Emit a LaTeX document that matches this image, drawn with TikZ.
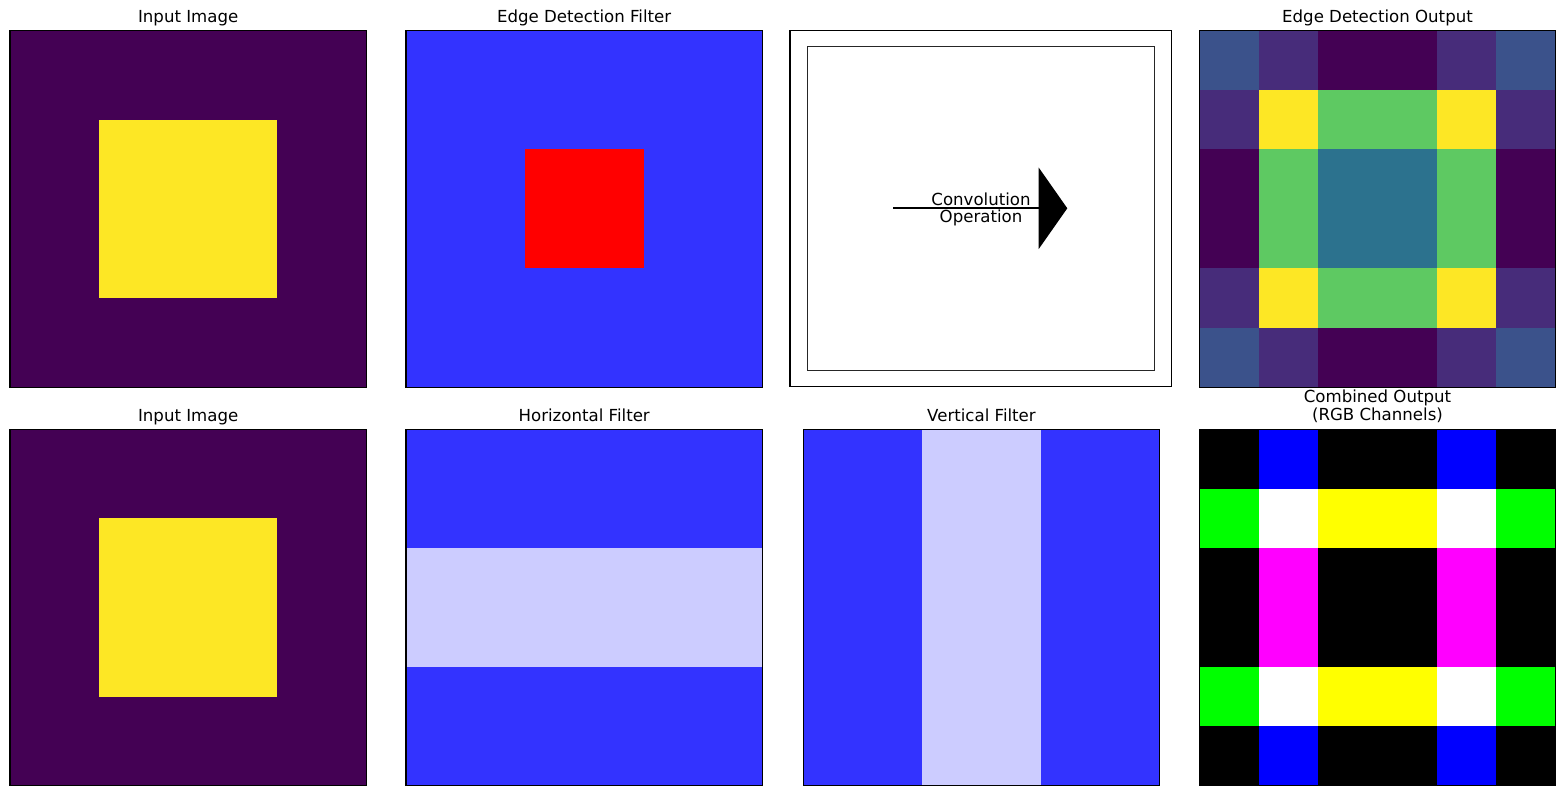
\documentclass[tikz,border=0pt]{standalone}
\usepackage{fontspec}
\setmainfont{DejaVu Sans}
\usetikzlibrary{arrows.meta}
\definecolor{vdark}{HTML}{440154}
\definecolor{vpurple}{HTML}{472C7A}
\definecolor{vblue}{HTML}{3B528B}
\definecolor{vteal}{HTML}{2C728E}
\definecolor{vgreen}{HTML}{5EC962}
\definecolor{vyellow}{HTML}{FDE725}
\definecolor{fblue}{HTML}{3333FF}
\definecolor{flight}{HTML}{CCCCFF}
\definecolor{fred}{HTML}{FF0000}
\definecolor{rgbk}{HTML}{000000}
\definecolor{rgbw}{HTML}{FFFFFF}
\definecolor{rgbb}{HTML}{0000FF}
\definecolor{rgbg}{HTML}{00FF00}
\definecolor{rgby}{HTML}{FFFF00}
\definecolor{rgbm}{HTML}{FF00FF}
\newcommand{\titlesize}{\fontsize{8.3}{8.7}\selectfont}

\begin{document}
\begin{tikzpicture}[x=0.5pt, y=-0.5pt,
  panel/.style={draw=black, line width=0.55pt},
  title/.style={font=\titlesize, anchor=base, align=center, inner sep=0pt},
  convarrow/.style={line width=1pt, -{Triangle[length=14.3pt, width=40.6pt]}}]
\useasboundingbox (0,0) rectangle (1565,795);

% input images, both rows
\foreach \y in {30.7, 429.3} {
  \fill[vdark] (10,\y) rectangle ++(356.4,356.4);
  \fill[vyellow] (99.1,\y+89.1) rectangle ++(178.2,178.2);
  \draw[panel] (10,\y) rectangle ++(356.4,356.4);
}
\node[title] (intop) at (188.2,22.7) {Input Image};
\node[title] (inbot) at (188.2,421.3) {Input Image};

% edge detection filter
\fill[fblue] (406,30.7) rectangle ++(356.4,356.4);
\fill[fred] (524.8,149.5) rectangle ++(118.8,118.8);
\draw[panel] (406,30.7) rectangle ++(356.4,356.4);
\node[title] (edgefilt) at (584.2,22.7) {Edge Detection Filter};

% convolution panel
\draw[panel] (790,30.7) rectangle (1171.7,386.7);
\draw[black!85, line width=0.45pt] (807,46) rectangle (1154.7,370);
\coordinate (convstart) at (893,208.3);
\coordinate (convtip) at (1067.3,208.3);
\draw[convarrow] (convstart) -- (convtip);
\node[font=\titlesize, align=center, inner sep=0pt] (convlabel) at (981,209.5) {Convolution\\Operation};

% edge detection output
\foreach \row [count=\r from 0] in {{vblue,vpurple,vdark,vdark,vpurple,vblue},
    {vpurple,vyellow,vgreen,vgreen,vyellow,vpurple},
    {vdark,vgreen,vteal,vteal,vgreen,vdark},
    {vdark,vgreen,vteal,vteal,vgreen,vdark},
    {vpurple,vyellow,vgreen,vgreen,vyellow,vpurple},
    {vblue,vpurple,vdark,vdark,vpurple,vblue}}
  \foreach \c [count=\k from 0] in \row
    \fill[\c] (1199.3+\k*59.4,30.7+\r*59.4) rectangle ++(59.6,59.6);
\draw[panel] (1199.3,30.7) rectangle ++(356.4,356.4);
\node[title] (edgeout) at (1377.5,22.7) {Edge Detection Output};

% horizontal filter
\fill[fblue] (406,429.3) rectangle ++(356.4,356.4);
\fill[flight] (406,548.1) rectangle ++(356.4,118.8);
\draw[panel] (406,429.3) rectangle ++(356.4,356.4);
\node[title] (horfilt) at (584.2,421.3) {Horizontal Filter};

% vertical filter
\fill[fblue] (803.3,429.3) rectangle ++(356.4,356.4);
\fill[flight] (922.1,429.3) rectangle ++(118.8,356.4);
\draw[panel] (803.3,429.3) rectangle ++(356.4,356.4);
\node[title] (verfilt) at (981.5,421.3) {Vertical Filter};

% combined output
\foreach \row [count=\r from 0] in {{rgbk,rgbb,rgbk,rgbk,rgbb,rgbk},
    {rgbg,rgbw,rgby,rgby,rgbw,rgbg},
    {rgbk,rgbm,rgbk,rgbk,rgbm,rgbk},
    {rgbk,rgbm,rgbk,rgbk,rgbm,rgbk},
    {rgbg,rgbw,rgby,rgby,rgbw,rgbg},
    {rgbk,rgbb,rgbk,rgbk,rgbb,rgbk}}
  \foreach \c [count=\k from 0] in \row
    \fill[\c] (1199.3+\k*59.4,429.3+\r*59.4) rectangle ++(59.6,59.6);
\draw[panel] (1199.3,429.3) rectangle ++(356.4,356.4);
\node[title] (combout) at (1377.5,420.3) {Combined Output\\(RGB Channels)};
\end{tikzpicture}
\end{document}
